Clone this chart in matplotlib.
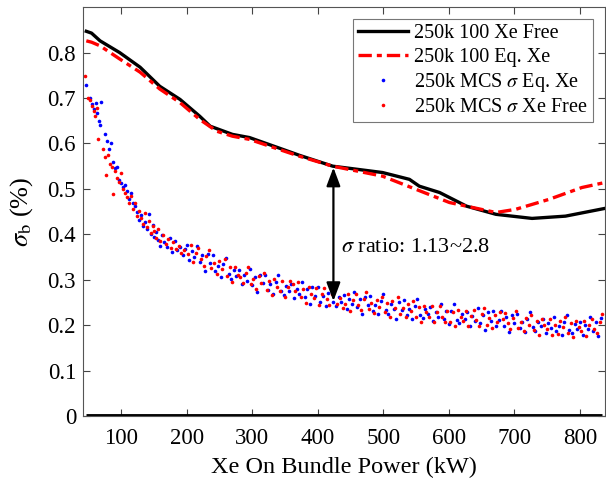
"""
Bundle power uncertainty: 100-sample curves vs. MCS sigma scatter.
Writes out.png (606x482).
"""
import matplotlib.pyplot as plt
import matplotlib as mpl

mpl.rcParams.update({
    "font.family": "Liberation Serif",
    "mathtext.fontset": "stix",
    "xtick.direction": "in", "ytick.direction": "in",
    "xtick.top": True, "ytick.right": True,
})

# 250k 100 Xe Free (solid black)
free_x = [47, 55, 68, 98, 129, 159, 190, 220, 236, 270, 296, 341, 372, 423,
          499, 540, 555, 586, 627, 672, 727, 778, 838]
free_y = [0.847, 0.843, 0.826, 0.800, 0.768, 0.726, 0.697, 0.660, 0.638,
          0.620, 0.613, 0.590, 0.574, 0.550, 0.536, 0.521, 0.506, 0.492,
          0.462, 0.444, 0.435, 0.440, 0.457]

# 250k 100 Eq. Xe (red dash-dot)
eq_x = [47, 55, 68, 98, 129, 159, 190, 220, 246, 270, 296, 341, 372, 423,
        499, 550, 601, 672, 702, 753, 803, 838]
eq_y = [0.826, 0.823, 0.815, 0.786, 0.757, 0.720, 0.690, 0.653, 0.627,
        0.616, 0.609, 0.587, 0.572, 0.550, 0.528, 0.499, 0.470, 0.448,
        0.455, 0.477, 0.503, 0.514]

# 250k MCS sigma Eq. Xe (blue dots)
mcs_eq_x = [47, 52, 56, 59, 62, 64, 66, 68, 70, 76, 79, 81, 84, 88, 91, 94,
            97, 100, 103, 106, 109, 112, 115, 118, 121, 124, 127, 130, 133,
            136, 139, 142, 145, 148, 151, 154, 157, 160, 163, 166, 170, 174,
            178, 182, 186, 190, 194, 197,
            200, 204, 208, 212, 216, 220, 224, 228, 232, 236, 240, 244, 248,
            252, 256, 260, 264, 268, 272, 276, 280, 284, 288, 292, 296, 300,
            304, 308, 312, 316, 320, 324, 328, 332, 336, 340, 344, 348, 352,
            356, 360, 364, 368, 372, 376, 380, 384, 388, 392, 396, 400, 404,
            408, 412, 416, 420, 424, 428, 432, 436, 440, 444, 448, 452, 456,
            460, 464, 468, 472, 476, 480, 484, 488, 492, 496, 500, 504, 508,
            512, 516, 520, 524, 528, 532, 536, 540, 544, 548, 552, 556, 560,
            564, 568, 572, 576, 580, 584, 588, 592, 596, 600, 604, 608, 612,
            616, 620, 624, 628, 632, 636, 640, 644, 648, 652, 656, 660, 664,
            668, 672, 676, 680, 684, 688, 692, 696, 700, 704, 708, 712, 716,
            720, 724, 728, 732, 736, 740, 744, 748, 752, 756, 760, 764, 768,
            772, 776, 780, 784, 788, 792, 796, 800, 804, 808, 812, 816, 820,
            824, 828, 832]
mcs_eq_y = [0.728, 0.700, 0.688, 0.676, 0.690, 0.668, 0.650, 0.640, 0.692,
            0.620, 0.605, 0.588, 0.600, 0.560, 0.545, 0.548, 0.520, 0.512,
            0.505, 0.508, 0.495, 0.478, 0.490, 0.470, 0.462, 0.450, 0.432,
            0.442, 0.418, 0.428, 0.412, 0.445, 0.400, 0.420, 0.395, 0.405,
            0.388, 0.375, 0.398, 0.382, 0.372, 0.392, 0.360, 0.385, 0.365,
            0.372, 0.355, 0.368,
            0.377, 0.344, 0.363, 0.350, 0.375, 0.339, 0.355, 0.320, 0.356,
            0.336, 0.354, 0.319, 0.331, 0.307, 0.335, 0.348, 0.312, 0.302,
            0.321, 0.308, 0.322, 0.290, 0.310, 0.298, 0.324, 0.289, 0.306,
            0.273, 0.310, 0.292, 0.311, 0.278, 0.290, 0.268, 0.296, 0.311,
            0.276, 0.267, 0.287, 0.276, 0.291, 0.260, 0.280, 0.269, 0.295,
            0.261, 0.279, 0.246, 0.283, 0.265, 0.285, 0.252, 0.265, 0.242,
            0.271, 0.286, 0.251, 0.243, 0.263, 0.252, 0.267, 0.236, 0.257,
            0.246, 0.273, 0.239, 0.257, 0.224, 0.263, 0.245, 0.265, 0.232,
            0.245, 0.224, 0.253, 0.268, 0.233, 0.225, 0.246, 0.235, 0.214,
            0.252, 0.234, 0.255, 0.222, 0.235, 0.213, 0.242, 0.258, 0.223,
            0.215, 0.235, 0.224, 0.240, 0.209, 0.230, 0.219, 0.246, 0.213,
            0.231, 0.202, 0.231, 0.247, 0.212, 0.204, 0.225, 0.214, 0.230,
            0.199, 0.220, 0.210, 0.237, 0.204, 0.222, 0.189, 0.228, 0.210,
            0.231, 0.198, 0.211, 0.232, 0.198, 0.217, 0.184, 0.222, 0.205,
            0.225, 0.193, 0.206, 0.184, 0.214, 0.229, 0.195, 0.187, 0.207,
            0.197, 0.213, 0.182, 0.204, 0.193, 0.218, 0.186, 0.199, 0.178,
            0.207, 0.223, 0.189, 0.182, 0.202, 0.192, 0.208, 0.178, 0.200,
            0.191, 0.219, 0.186, 0.206, 0.175, 0.215]

# 250k MCS sigma Xe Free (red dots)
mcs_free_x = [45, 49, 52, 55, 58, 61, 63, 65, 72, 75, 77, 80, 83, 86, 88,
              91, 94, 97, 100, 103, 106, 109, 112, 115, 118, 121, 124, 127,
              130, 133, 136, 139, 142, 145, 148, 151, 154, 157, 160, 164, 168,
              172, 176, 180, 184, 188, 192, 196,
              202, 206, 210, 214, 218, 222, 226, 230, 234, 238, 242, 246, 250,
              254, 258, 262, 266, 270, 274, 278, 282, 286, 290, 294, 298, 302,
              306, 310, 314, 318, 322, 326, 330, 334, 338, 342, 346, 350, 354,
              358, 362, 366, 370, 374, 378, 382, 386, 390, 394, 398, 402, 406,
              410, 414, 418, 422, 426, 430, 434, 438, 442, 446, 450, 454, 458,
              462, 466, 470, 474, 478, 482, 486, 490, 494, 498, 502, 506, 510,
              514, 518, 522, 526, 530, 534, 538, 542, 546, 550, 554, 558, 562,
              566, 570, 574, 578, 582, 586, 590, 594, 598, 602, 606, 610, 614,
              618, 622, 626, 630, 634, 638, 642, 646, 650, 654, 658, 662, 666,
              670, 674, 678, 682, 686, 690, 694, 698, 702, 706, 710, 714, 718,
              722, 726, 730, 734, 738, 742, 746, 750, 754, 758, 762, 766, 770,
              774, 778, 782, 786, 790, 794, 798, 802, 806, 810, 814, 818, 822,
              826, 830, 834]
mcs_free_y = [0.748, 0.700, 0.695, 0.682, 0.672, 0.660, 0.678, 0.610, 0.588,
              0.570, 0.530, 0.575, 0.555, 0.548, 0.488, 0.540, 0.525, 0.515,
              0.535, 0.500, 0.490, 0.482, 0.470, 0.485, 0.455, 0.468, 0.440,
              0.452, 0.436, 0.422, 0.446, 0.415, 0.430, 0.402, 0.418, 0.408,
              0.392, 0.412, 0.385, 0.398, 0.378, 0.390, 0.370, 0.382, 0.368,
              0.375, 0.358, 0.366,
              0.356, 0.376, 0.338, 0.359, 0.370, 0.345, 0.331, 0.353, 0.365,
              0.326, 0.337, 0.313, 0.341, 0.324, 0.345, 0.308, 0.327, 0.294,
              0.328, 0.311, 0.305, 0.292, 0.315, 0.328, 0.290, 0.302, 0.279,
              0.308, 0.292, 0.314, 0.278, 0.298, 0.266, 0.301, 0.285, 0.276,
              0.298, 0.261, 0.284, 0.297, 0.290, 0.275, 0.296, 0.261, 0.280,
              0.249, 0.284, 0.269, 0.259, 0.281, 0.245, 0.268, 0.281, 0.257,
              0.245, 0.269, 0.283, 0.246, 0.259, 0.237, 0.246, 0.268, 0.232,
              0.255, 0.268, 0.245, 0.233, 0.257, 0.272, 0.235, 0.248, 0.226,
              0.255, 0.241, 0.263, 0.228, 0.248, 0.217, 0.253, 0.238, 0.262,
              0.225, 0.238, 0.217, 0.246, 0.231, 0.253, 0.218, 0.239, 0.208,
              0.243, 0.228, 0.219, 0.242, 0.206, 0.229, 0.242, 0.219, 0.208,
              0.232, 0.208, 0.228, 0.198, 0.233, 0.218, 0.210, 0.232, 0.197,
              0.220, 0.233, 0.211, 0.199, 0.224, 0.238, 0.201, 0.215, 0.193,
              0.223, 0.208, 0.230, 0.213, 0.226, 0.204, 0.192, 0.216, 0.231,
              0.194, 0.208, 0.186, 0.215, 0.201, 0.223, 0.189, 0.209, 0.178,
              0.214, 0.200, 0.191, 0.214, 0.178, 0.201, 0.180, 0.209, 0.195,
              0.217, 0.183, 0.204, 0.174, 0.209, 0.195, 0.187, 0.210, 0.175,
              0.200, 0.214, 0.192, 0.182, 0.208, 0.224]

zero_x = [47, 833]
zero_y = [0, 0]

x_ticks = [100, 200, 300, 400, 500, 600, 700, 800]
y_ticks = [0, 0.1, 0.2, 0.3, 0.4, 0.5, 0.6, 0.7, 0.8]
y_labels = ["0", "0.1", "0.2", "0.3", "0.4", "0.5", "0.6", "0.7", "0.8"]

fig = plt.figure(figsize=(6.06, 4.82), dpi=100)
ax = fig.add_axes([0.137, 0.137, 0.861, 0.848])

ax.plot(free_x, free_y, color="black", lw=2.4, label="250k 100 Xe Free")
ax.plot(eq_x, eq_y, color="red", lw=2.4, linestyle=(0, (4, 1.5, 1.5, 1.5)),
        label="250k 100 Eq. Xe")
ax.plot(mcs_eq_x, mcs_eq_y, ls="none", marker="o", ms=2.6, mew=0,
        color="blue", label=r"250k MCS $\sigma$ Eq. Xe")
ax.plot(mcs_free_x, mcs_free_y, ls="none", marker="o", ms=2.6, mew=0,
        color="red", label=r"250k MCS $\sigma$ Xe Free")
ax.plot(zero_x, zero_y, color="black", lw=3.5, solid_capstyle="butt")

# double arrow showing the sigma gap
ax.annotate("", xy=(424, 0.547), xytext=(424, 0.253),
            arrowprops=dict(arrowstyle="<|-|>,head_length=0.8,head_width=0.3",
                            color="black", lw=1.6, mutation_scale=14,
                            shrinkA=0, shrinkB=0))
ax.text(436, 0.372, r"$\sigma$ ratio: 1.13~2.8", fontsize=16,
        va="center", ha="left")

ax.set_xlim(42, 838)
ax.set_ylim(0, 0.9)
ax.set_xticks(x_ticks)
ax.set_yticks(y_ticks)
ax.set_yticklabels(y_labels)
ax.tick_params(labelsize=16.5, length=5, color="#444444")
ax.tick_params(axis="x", pad=9)
ax.tick_params(axis="y", pad=5)
for s in ax.spines.values():
    s.set_color("#555555")
    s.set_linewidth(0.8)

ax.set_xlabel("Xe On Bundle Power (kW)", fontsize=17.5, labelpad=5)
ax.set_ylabel(r"$\sigma_{\mathrm{b}}$ (%)", fontsize=19, labelpad=9)

leg = ax.legend(loc="upper right", fontsize=14.5, handlelength=2.5,
                handletextpad=0.3, borderpad=0.25, labelspacing=0.2,
                fancybox=False, edgecolor="#555555", markerscale=1.0,
                borderaxespad=0.6)
leg.get_frame().set_linewidth(0.8)

fig.savefig("out.png", dpi=100)
